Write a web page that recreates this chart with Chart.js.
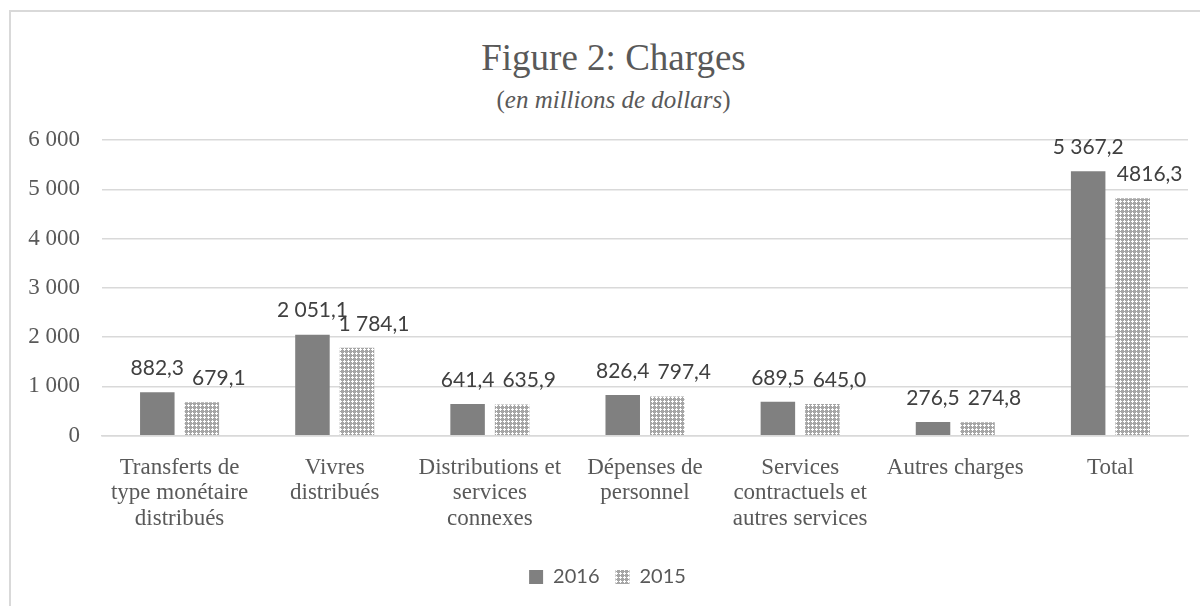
<!DOCTYPE html>
<html>
<head>
<meta charset="utf-8">
<script src="https://cdn.jsdelivr.net/npm/chart.js@4.4.1/dist/chart.umd.min.js"></script>
<style>
  html, body { margin: 0; padding: 0; width: 1200px; height: 606px; overflow: hidden; background: #fff; }
  #frameTop { position: absolute; left: 9px; top: 10px; width: 1300px; height: 2px; background: #d9d9d9; }
  #frameLeft { position: absolute; left: 9px; top: 10px; width: 2px; height: 700px; background: #d9d9d9; }
  #title { position: absolute; left: 11px; width: 1205px; top: 37px; text-align: center;
           font-family: "Liberation Serif", "Times New Roman", serif; font-size: 37px; line-height: 42px; color: #595959; }
  #subtitle { position: absolute; left: 11px; width: 1205px; top: 86px; text-align: center;
           font-family: "Liberation Serif", "Times New Roman", serif; font-size: 25px; line-height: 28px; color: #595959; }
  #wrap { position: absolute; left: 11px; top: 12px; }
</style>
</head>
<body>
<div id="frameTop"></div>
<div id="frameLeft"></div>
<div id="title">Figure 2: Charges</div>
<div id="subtitle">(<i>en millions de dollars</i>)</div>
<div id="wrap"><canvas id="c" width="1205" height="594"></canvas></div>
<script>
// ---- data ----
const categories = [
  ["Transferts de", "type monétaire", "distribués"],
  ["Vivres", "distribués"],
  ["Distributions et", "services", "connexes"],
  ["Dépenses de", "personnel"],
  ["Services", "contractuels et", "autres services"],
  ["Autres charges"],
  ["Total"]
];
const series2016 = [882.3, 2051.1, 641.4, 826.4, 689.5, 276.5, 5367.2];
const series2015 = [679.1, 1784.1, 635.9, 797.4, 645.0, 274.8, 4816.3];
const labels2016 = ["882,3", "2 051,1", "641,4", "826,4", "689,5", "276,5", "5 367,2"];
const labels2015 = ["679,1", "1 784,1", "635,9", "797,4", "645,0", "274,8", "4816,3"];
const seriesNames = ["2016", "2015"];
const yTicks = [0, 1000, 2000, 3000, 4000, 5000, 6000];

// ---- pattern for 2015 ----
function makePattern() {
  const t = document.createElement('canvas');
  t.width = 4; t.height = 4;
  const g = t.getContext('2d');
  g.fillStyle = '#a6a6a6';
  g.fillRect(0, 0, 4, 4);
  g.fillStyle = '#ffffff';
  g.fillRect(1, 0, 1, 3);
  g.fillRect(0, 1, 3, 1);
  return document.getElementById('c').getContext('2d').createPattern(t, 'repeat');
}
const pattern2015 = makePattern();

const fmt = v => String(v).replace(/\B(?=(\d{3})+(?!\d))/g, ' ');

const labelPlugin = {
  id: 'barLabels',
  afterDatasetsDraw(chart) {
    const ctx = chart.ctx;
    ctx.save();
    ctx.font = '21px Lato, "Noto Sans", sans-serif';
    ctx.fillStyle = '#404040';
    ctx.textAlign = 'center';
    ctx.textBaseline = 'middle';
    const texts = [labels2016, labels2015];
    const shifts = [0, 17];
    chart.data.datasets.forEach((ds, di) => {
      const meta = chart.getDatasetMeta(di);
      meta.data.forEach((bar, i) => {
        ctx.fillText(texts[di][i], bar.x + shifts[di], bar.y - 24);
      });
    });
    ctx.restore();
  }
};

new Chart(document.getElementById('c'), {
  type: 'bar',
  data: {
    labels: categories,
    datasets: [
      { label: seriesNames[0], data: series2016, backgroundColor: '#808080', borderWidth: 0,
        categoryPercentage: 0.574, barPercentage: 0.775 },
      { label: seriesNames[1], data: series2015, backgroundColor: pattern2015, borderWidth: 0,
        categoryPercentage: 0.574, barPercentage: 0.775 }
    ]
  },
  options: {
    responsive: false,
    animation: false,
    layout: { padding: { top: 128, left: 16, right: 28, bottom: 9 } },
    plugins: {
      legend: {
        position: 'bottom',
        labels: {
          boxWidth: 14, boxHeight: 14, padding: 16,
          font: { family: 'Lato, "Noto Sans", sans-serif', size: 20 },
          color: '#595959'
        }
      },
      tooltip: { enabled: false },
      title: { display: false }
    },
    scales: {
      x: {
        grid: { display: false },
        border: { color: '#d9d9d9', width: 1.5 },
        afterFit(scale) { scale.height += 8; },
        ticks: {
          font: { family: '"Liberation Serif", "Times New Roman", serif', size: 23, lineHeight: 1.12 },
          color: '#595959', maxRotation: 0, autoSkip: false, padding: 11
        }
      },
      y: {
        min: 0, max: 6000,
        afterBuildTicks(axis) { axis.ticks = yTicks.map(v => ({ value: v })); },
        afterFit(scale) { scale.width = 75; },
        grid: { color: '#d9d9d9', lineWidth: 1.5, drawTicks: false },
        border: { display: false },
        ticks: {
          font: { family: '"Liberation Serif", "Times New Roman", serif', size: 23 },
          color: '#595959', padding: 22,
          callback: v => fmt(v)
        }
      }
    }
  },
  plugins: [labelPlugin]
});
</script>
</body>
</html>
